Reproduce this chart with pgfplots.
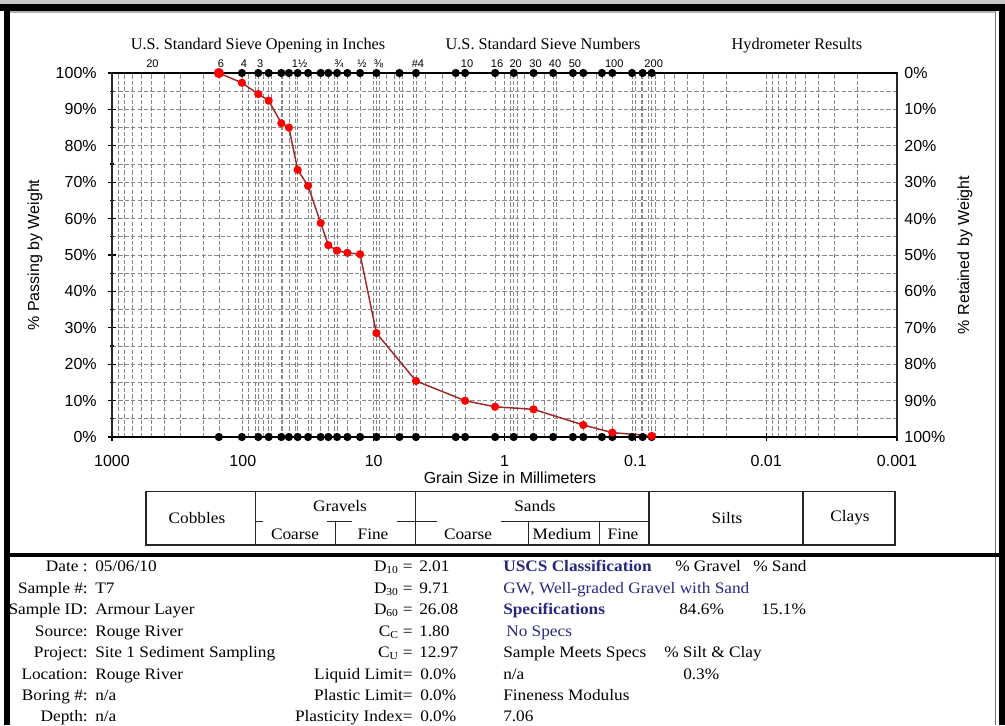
\documentclass[border=0pt]{standalone}
\usepackage{pgfplots}
\usepackage{pgfplotstable}
\pgfplotsset{compat=1.18}
\usepackage{fontspec}
\setmainfont{Liberation Serif}
\newfontfamily\arial{Liberation Sans}
\newfontfamily\tnr{Liberation Serif}
\newfontfamily\tnrw[FakeStretch=1.08]{Liberation Serif}
\definecolor{navy}{RGB}{40,40,128}
\definecolor{curve}{RGB}{160,40,40}
\definecolor{gridgray}{RGB}{135,135,135}

% percent passing at each sieve (mm)
\pgfplotstableread{
d       p
152.4   100
101.6   97.3
76.2    94.2
63.5    92.4
50.8    86.2
44.45   85.0
38.1    73.4
31.75   69.0
25.4    58.8
22.2    52.7
19.05   51.2
15.875  50.6
12.7    50.2
9.525   28.55
4.75    15.4
2.0     9.97
1.18    8.3
0.6     7.6
0.25    3.3
0.15    1.2
0.075   0.3
}\passing

% sieve stack (mm), marked along the 0% and 100% lines
\pgfplotstableread{
d       lo  hi
152.4   0   100
101.6   0   100
76.2    0   100
63.5    0   100
50.8    0   100
44.45   0   100
38.1    0   100
31.75   0   100
25.4    0   100
22.2    0   100
19.05   0   100
15.875  0   100
12.7    0   100
9.525   0   100
6.35    0   100
4.75    0   100
2.36    0   100
2.0     0   100
1.18    0   100
0.85    0   100
0.6     0   100
0.425   0   100
0.3     0   100
0.25    0   100
0.18    0   100
0.15    0   100
0.106   0   100
0.088   0   100
0.075   0   100
}\sieves

\newcommand\tickfont{\arial\fontsize{12}{14}\selectfont}
\newcommand\sievefont{\arial\fontsize{8.3}{9}\selectfont}
\newcommand\headfont{\tnr\fontsize{12.2}{14}\selectfont}
\newcommand\infofont{\tnrw\fontsize{12}{14}\selectfont}

\begin{document}
\begin{tikzpicture}
\useasboundingbox (0,0) rectangle (753.75pt,543.75pt);

\begin{axis}[
  at={(84pt,216pt)}, anchor=south west,
  scale only axis, width=588.75pt, height=273pt,
  xmode=log, x dir=reverse, xmin=0.001, xmax=1000,
  ymin=0, ymax=100,
  xtick={1000,100,10,1,0.1,0.01,0.001},
  xticklabels={1000,100,10,1,0.1,0.01,0.001},
  minor xtick={0.002,0.003,0.004,0.005,0.006,0.007,0.008,0.009,
               0.02,0.03,0.04,0.05,0.06,0.07,0.08,0.09,
               0.2,0.3,0.4,0.5,0.6,0.7,0.8,0.9,
               2,3,4,5,6,7,8,9,
               20,30,40,50,60,70,80,90,
               200,300,400,500,600,700,800,900},
  ytick={0,10,...,100},
  yticklabels={0\%,10\%,20\%,30\%,40\%,50\%,60\%,70\%,80\%,90\%,100\%},
  minor y tick num=1,
  extra x ticks={152.4,101.6,76.2,63.5,50.8,44.45,38.1,31.75,25.4,22.2,19.05,15.875,12.7,9.525,6.35,4.75,2.36,2.0,1.18,0.85,0.6,0.425,0.3,0.25,0.18,0.15,0.106,0.088,0.075},
  extra x tick labels={},
  extra x tick style={grid=major, major tick length=0pt},
  xmajorgrids, xminorgrids, ymajorgrids, yminorgrids,
  grid style={gridgray, dash pattern=on 3.2pt off 1.6pt, line width=0.55pt},
  minor x tick style={draw=none},
  xtick pos=bottom, ytick pos=left,
  tick align=center, major tick length=6pt, minor tick length=3pt,
  tick style={black, line width=0.8pt},
  ticklabel style={font=\tickfont},
  xticklabel style={yshift=-7pt},
  yticklabel style={xshift=-5pt},
  /pgf/number format/assume math mode=true,
  axis line style={black!85, line width=1pt},
  clip=false,
]
% heavy 0% and 100% lines
\draw[black, line width=1.8pt] (rel axis cs:0,1) -- (rel axis cs:1,1);
\draw[black, line width=1.8pt] (rel axis cs:0,0) -- (rel axis cs:1,0);

% sieve markers
\addplot[black, line width=1.3pt, mark=*, mark size=2.4pt, mark options={solid, fill=black}]
  table[x=d, y=lo] {\sieves};
\addplot[black, line width=1.3pt, mark=*, mark size=2.4pt, mark options={solid, fill=black}]
  table[x=d, y=hi] {\sieves};

% gradation curve
\addplot[curve, line width=1.1pt, mark=*, mark size=2.5pt, mark options={fill=red, draw=red}]
  table[x=d, y=p] {\passing};
\addplot[only marks, mark=*, mark size=3.6pt, red] table[x=d, y=p] {
d p
152.4 100
};

% sieve names along the top
\begin{scope}[every node/.style={font=\sievefont, anchor=base, inner sep=0pt, yshift=4pt, xshift=1.5pt}]
\node at (axis cs:508,100) {20};
\node at (axis cs:152.4,100) {6};
\node at (axis cs:101.6,100) {4};
\node at (axis cs:76.2,100) {3};
\node at (axis cs:38.1,100) {1½};
\node at (axis cs:19.05,100) {¾};
\node at (axis cs:12.7,100) {½};
\node at (axis cs:9.525,100) {⅜};
\node at (axis cs:4.75,100) {\#4};
\node at (axis cs:2.0,100) {10};
\node at (axis cs:1.18,100) {16};
\node at (axis cs:0.85,100) {20};
\node at (axis cs:0.6,100) {30};
\node at (axis cs:0.425,100) {40};
\node at (axis cs:0.3,100) {50};
\node at (axis cs:0.15,100) {100};
\node at (axis cs:0.075,100) {200};
\end{scope}
\end{axis}

% percent retained on the right
\begin{axis}[
  at={(84pt,216pt)}, anchor=south west,
  scale only axis, width=588.75pt, height=273pt,
  xmin=0, xmax=1, ymin=0, ymax=100, y dir=reverse,
  hide x axis, axis y line*=right,
  axis line style={draw=none},
  ytick={0,10,...,100},
  yticklabels={0\%,10\%,20\%,30\%,40\%,50\%,60\%,70\%,80\%,90\%,100\%},
  major tick length=0pt,
  ticklabel style={font=\tickfont},
  yticklabel style={xshift=2pt},
]
\end{axis}

\begin{scope}[x=0.75pt, y=-0.75pt, shift={(0pt,543.75pt)}]
% axis titles
\node[font=\tickfont] at (510,478) {Grain Size in Millimeters};
\node[font=\tickfont, rotate=90] at (35,255) {\% Passing by Weight};
\node[font=\tickfont, rotate=90] at (965,255) {\% Retained by Weight};

% group headings above the plot
\node[font=\headfont, anchor=base] at (258,50) {U.S. Standard Sieve Opening in Inches};
\node[font=\headfont, anchor=base] at (543,50) {U.S. Standard Sieve Numbers};
\node[font=\headfont, anchor=base] at (797,50) {Hydrometer Results};

% soil classification bands
\begin{scope}[line width=1.1pt, black!85]
\draw (146,491.7) rectangle (895,545);
\draw (255.7,491.7) -- (255.7,545);
\draw (415.7,491.7) -- (415.7,545);
\draw (649,491.7) -- (649,545);
\draw (803,491.7) -- (803,545);
\draw (335.3,521.7) -- (335.3,545);
\draw (528.7,521.7) -- (528.7,545);
\draw (599.7,521.7) -- (599.7,545);
\draw (255.7,521.7) -- (263.3,521.7);
\draw (327.3,521.7) -- (352.3,521.7);
\draw (396.7,521.7) -- (437.3,521.7);
\draw (501,521.7) -- (649,521.7);
\end{scope}
\begin{scope}[every node/.style={font=\infofont, inner sep=0pt}]
\node at (197,518) {Cobbles};
\node at (340,506) {Gravels};
\node at (295,534) {Coarse};
\node at (373,534) {Fine};
\node at (535,506) {Sands};
\node at (468,534) {Coarse};
\node at (562,534) {Medium};
\node at (623,534) {Fine};
\node at (727,518) {Silts};
\node at (850,518) {Clays};
\end{scope}

% sample information
\begin{scope}[every node/.style={font=\infofont, inner sep=0pt}]
\node[anchor=base east] at (88,571.5) {Date :};
\node[anchor=base east] at (88,593) {Sample \#:};
\node[anchor=base east] at (88,614.5) {Sample ID:};
\node[anchor=base east] at (88,636) {Source:};
\node[anchor=base east] at (88,657.5) {Project:};
\node[anchor=base east] at (88,679) {Location:};
\node[anchor=base east] at (88,700.5) {Boring \#:};
\node[anchor=base east] at (88,721) {Depth:};
\node[anchor=base west] at (95,571.5) {05/06/10};
\node[anchor=base west] at (95,593) {T7};
\node[anchor=base west] at (95,614.5) {Armour Layer};
\node[anchor=base west] at (95,636) {Rouge River};
\node[anchor=base west] at (95,657.5) {Site 1 Sediment Sampling};
\node[anchor=base west] at (95,679) {Rouge River};
\node[anchor=base west] at (95,700.5) {n/a};
\node[anchor=base west] at (95,721) {n/a};

\node[anchor=base east] at (413,571.5) {D\textsubscript{10} =};
\node[anchor=base east] at (413,593) {D\textsubscript{30} =};
\node[anchor=base east] at (413,614.5) {D\textsubscript{60} =};
\node[anchor=base east] at (413,636) {C\textsubscript{C} =};
\node[anchor=base east] at (413,657.5) {C\textsubscript{U} =};
\node[anchor=base east] at (413,679) {Liquid Limit=};
\node[anchor=base east] at (413,700.5) {Plastic Limit=};
\node[anchor=base east] at (413,721) {Plasticity Index=};
\node[anchor=base west] at (419,571.5) {2.01};
\node[anchor=base west] at (419,593) {9.71};
\node[anchor=base west] at (419,614.5) {26.08};
\node[anchor=base west] at (419,636) {1.80};
\node[anchor=base west] at (419,657.5) {12.97};
\node[anchor=base west] at (420,679) {0.0\%};
\node[anchor=base west] at (420,700.5) {0.0\%};
\node[anchor=base west] at (420,721) {0.0\%};

\node[anchor=base west, text=navy] at (503,571.5) {\bfseries USCS Classification};
\node[anchor=base west] at (675,571.5) {\% Gravel};
\node[anchor=base west] at (753,571.5) {\% Sand};
\node[anchor=base west, text=navy] at (503,593) {GW, Well-graded Gravel with Sand};
\node[anchor=base west, text=navy] at (503,614.5) {\bfseries Specifications};
\node[anchor=base west] at (679,614.5) {84.6\%};
\node[anchor=base west] at (761,614.5) {15.1\%};
\node[anchor=base west, text=navy] at (506,636) {No Specs};
\node[anchor=base west] at (503,657.5) {Sample Meets Specs};
\node[anchor=base west] at (664,657.5) {\% Silt \& Clay};
\node[anchor=base west] at (503,679) {n/a};
\node[anchor=base west] at (683,679) {0.3\%};
\node[anchor=base west] at (503,700.5) {Fineness Modulus};
\node[anchor=base west] at (503,721) {7.06};
\end{scope}

% sheet frame
\fill[black!22] (0,0) rectangle (1005,4);
\fill[black] (0,4) rectangle (1005,11);
\draw[black!30, line width=1pt] (10,12) -- (996,12);
\fill[black] (4,11) rectangle (10,725);
\fill[black] (999,4) rectangle (1005,725);
\draw[black!55, line width=1pt] (995.5,12) -- (995.5,725);
\fill[black] (10,553) rectangle (999,557);
\end{scope}
\end{tikzpicture}
\end{document}
